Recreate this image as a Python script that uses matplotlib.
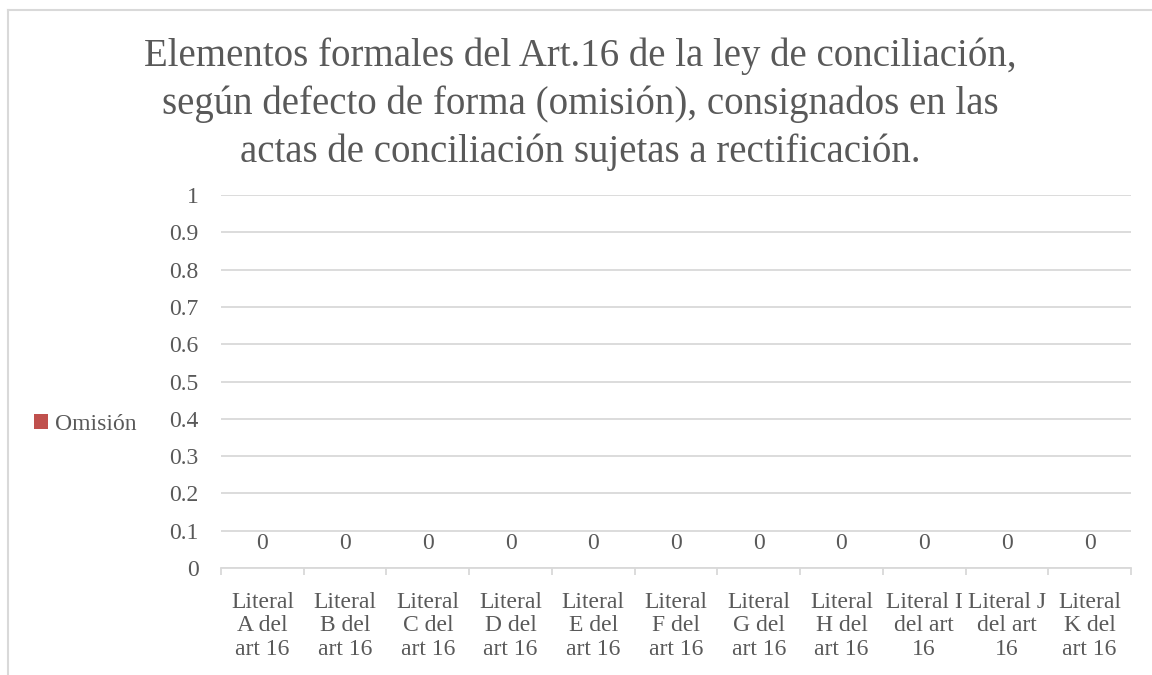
import matplotlib
matplotlib.use("Agg")
import matplotlib.pyplot as plt
from matplotlib.lines import Line2D
import numpy as np

# ── Data ──────────────────────────────────────────────────────────────────────
categories = [
    "Literal\nA del\nart 16", "Literal\nB del\nart 16", "Literal\nC del\nart 16",
    "Literal\nD del\nart 16", "Literal\nE del\nart 16", "Literal\nF del\nart 16",
    "Literal\nG del\nart 16", "Literal\nH del\nart 16", "Literal I\ndel art\n16",
    "Literal J\ndel art\n16", "Literal\nK del\nart 16",
]
omision = [0, 0, 0, 0, 0, 0, 0, 0, 0, 0, 0]
y_ticks = [0, 0.1, 0.2, 0.3, 0.4, 0.5, 0.6, 0.7, 0.8, 0.9, 1]
y_labels = ["0", "0.1", "0.2", "0.3", "0.4", "0.5", "0.6", "0.7", "0.8", "0.9", "1"]
title = ("Elementos formales del Art.16 de la ley de conciliación,\n"
         "según defecto de forma (omisión), consignados en las\n"
         "actas de conciliación sujetas a rectificación.")

# ── Style ─────────────────────────────────────────────────────────────────────
plt.rcParams["font.family"] = ["Liberation Serif", "DejaVu Serif"]
TEXT = "#595959"
GRID = "#d9d9d9"
BAR = "#C0504D"
W, H = 1152, 675

fig = plt.figure(figsize=(W / 100, H / 100), dpi=100)
ax = fig.add_axes([221 / W, 1 - 568 / H, (1131 - 221) / W, (568 - 195) / H])

# chart border (only top and left visible in the crop)
fig.add_artist(Line2D([8 / W, 1], [1 - 10 / H, 1 - 10 / H], color=GRID, lw=1.5))
fig.add_artist(Line2D([8 / W, 8 / W], [0, 1 - 10 / H], color=GRID, lw=1.5))

x = np.arange(len(categories))
bars = ax.bar(x, omision, width=0.6, color=BAR, label="Omisión")
ax.bar_label(bars, labels=[str(v) for v in omision], padding=10, fontsize=17, color=TEXT)

ax.set_xlim(-0.5, len(categories) - 0.5)
ax.set_ylim(0, 1)
ax.set_yticks(y_ticks)
ax.set_yticklabels(y_labels)
ax.yaxis.grid(True, color=GRID, lw=1.3)
ax.set_axisbelow(True)

ax.set_xticks(x)
ax.set_xticklabels(categories, linespacing=1.18)
ax.set_xticks(np.arange(-0.5, len(categories)), minor=True)
ax.tick_params(axis="x", which="major", length=0, pad=17, labelsize=17, labelcolor=TEXT)
ax.tick_params(axis="x", which="minor", length=5, width=1.3, color=GRID)
ax.tick_params(axis="y", length=0, pad=16, labelsize=17, labelcolor=TEXT)

for s in ["top", "right", "left"]:
    ax.spines[s].set_visible(False)
ax.spines["bottom"].set_color(GRID)
ax.spines["bottom"].set_linewidth(1.3)

fig.text(0.5 + 8 / W / 2, 1 - 104 / H, title, ha="center", va="center",
         fontsize=28, color=TEXT, linespacing=1.36)

fig.legend(handles=[bars], labels=["Omisión"], loc="center left",
           bbox_to_anchor=(34 / W, 1 - 424 / H), frameon=False, fontsize=17,
           labelcolor=TEXT, handlelength=0.6, handleheight=0.6,
           handletextpad=0.3, borderpad=0, borderaxespad=0)

fig.savefig("out.png", dpi=100)
